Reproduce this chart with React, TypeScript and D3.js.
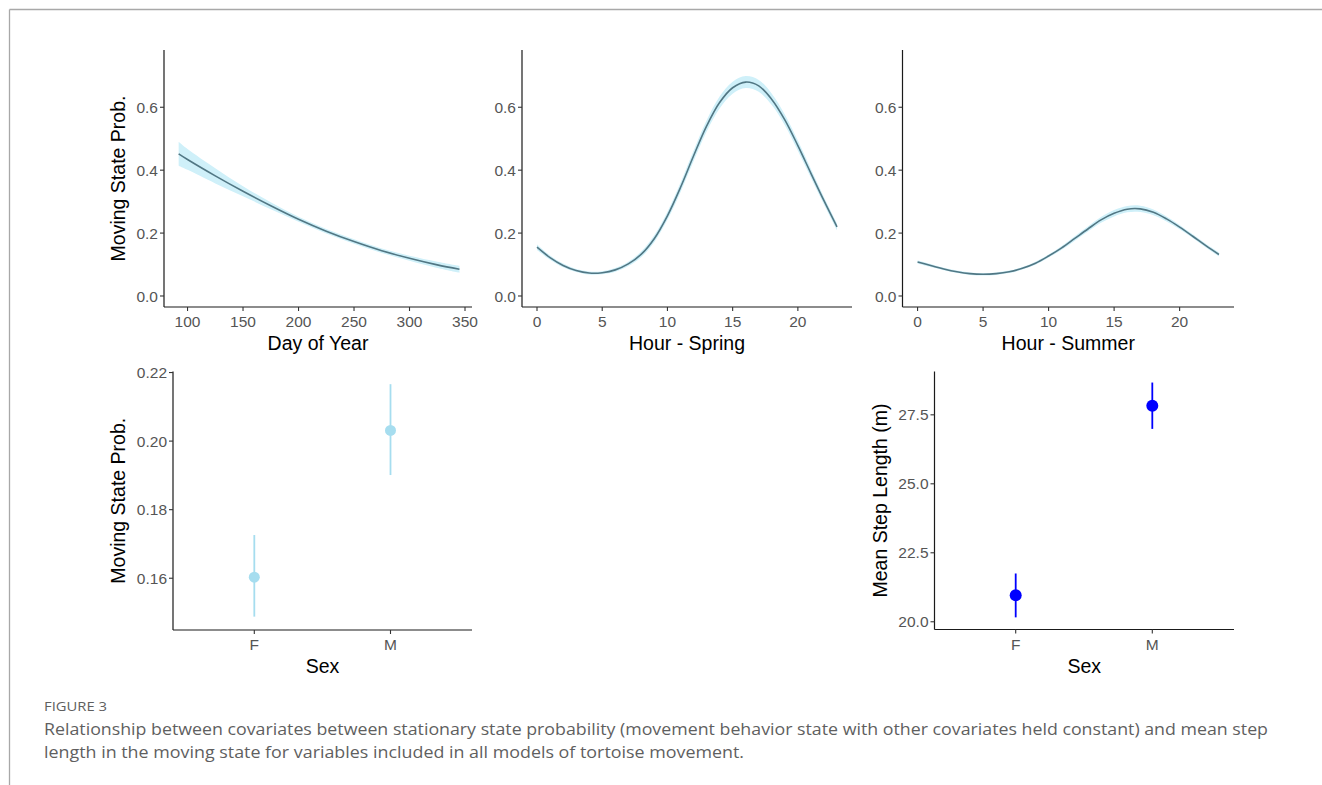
import React from "react";
import * as d3 from "d3";

// ---- Data ----
const dayX = [92, 100, 125, 150, 175, 200, 225, 250, 275, 300, 325, 345];
const dayFit = [0.452, 0.434, 0.382, 0.333, 0.287, 0.244, 0.206, 0.173, 0.144, 0.12, 0.099, 0.085];
const dayHalf = [0.038, 0.033, 0.024, 0.016, 0.011, 0.008, 0.007, 0.007, 0.007, 0.008, 0.01, 0.011];

const hours = [0, 1, 2, 3, 4, 5, 6, 7, 8, 9, 10, 11, 12, 13, 14, 15, 16, 17, 18, 19, 20, 21, 22, 23];
const springFit = [0.155, 0.122, 0.097, 0.081, 0.073, 0.074, 0.083, 0.102, 0.133, 0.183, 0.255, 0.345, 0.445, 0.54, 0.615, 0.662, 0.68, 0.668, 0.625, 0.56, 0.478, 0.39, 0.303, 0.22];
const springHalf = [0.009, 0.007, 0.006, 0.005, 0.005, 0.005, 0.006, 0.007, 0.009, 0.011, 0.013, 0.015, 0.017, 0.018, 0.019, 0.019, 0.019, 0.019, 0.018, 0.017, 0.016, 0.014, 0.012, 0.011];
const summerFit = [0.108, 0.097, 0.086, 0.077, 0.071, 0.069, 0.071, 0.077, 0.088, 0.104, 0.127, 0.153, 0.183, 0.213, 0.242, 0.263, 0.276, 0.277, 0.266, 0.245, 0.219, 0.19, 0.16, 0.132];
const summerHalf = [0.005, 0.005, 0.004, 0.004, 0.004, 0.004, 0.004, 0.004, 0.004, 0.005, 0.005, 0.006, 0.007, 0.008, 0.009, 0.01, 0.01, 0.01, 0.009, 0.008, 0.007, 0.006, 0.006, 0.006];

const sexCats = ["F", "M"];
const probMean = [0.1603, 0.2031];
const probLo = [0.1488, 0.1901];
const probHi = [0.1726, 0.2166];
const stepMean = [20.96, 27.83];
const stepLo = [20.16, 26.99];
const stepHi = [21.75, 28.67];

const probTicksTop = [0, 0.2, 0.4, 0.6];
const dayTicks = [100, 150, 200, 250, 300, 350];
const hourTicks = [0, 5, 10, 15, 20];
const probTicksSex = [0.16, 0.18, 0.2, 0.22];
const stepTicks = [20, 22.5, 25, 27.5];

const LINE = "#517784";
const RIBBON = "#cff0f9";
const TICKCOL = "#555555";
const FONT = "'Liberation Sans', Arial, Helvetica, sans-serif";
const TICK_FS = 15.5;
const TITLE_FS = 19.5;

function Axes({ x0, x1, y0, y1, xTicks, yTicks, xs, ys, xFmt, yFmt, xTitle, yTitle, yTitleX }: any) {
  return (
    <g fontFamily={FONT}>
      <line x1={x0} x2={x0} y1={y0} y2={y1} stroke="#1a1a1a" strokeWidth={1.2} />
      <line x1={x0} x2={x1} y1={y1} y2={y1} stroke="#1a1a1a" strokeWidth={1.2} />
      {yTicks.map((t: any, i: number) => (
        <g key={"y" + i}>
          <line x1={x0 - 4} x2={x0} y1={ys(t)} y2={ys(t)} stroke="#333" strokeWidth={1.1} />
          <text x={x0 - 6} y={ys(t)} dy="0.36em" textAnchor="end" fontSize={TICK_FS} fill={TICKCOL}>
            {yFmt(t)}
          </text>
        </g>
      ))}
      {xTicks.map((t: any, i: number) => (
        <g key={"x" + i}>
          <line x1={xs(t)} x2={xs(t)} y1={y1} y2={y1 + 4} stroke="#333" strokeWidth={1.1} />
          <text x={xs(t)} y={y1 + 20} textAnchor="middle" fontSize={TICK_FS} fill={TICKCOL}>
            {xFmt(t)}
          </text>
        </g>
      ))}
      <text x={(x0 + x1) / 2} y={y1 + 43} textAnchor="middle" fontSize={TITLE_FS} fill="#000">
        {xTitle}
      </text>
      {yTitle && (
        <text
          transform={`translate(${yTitleX},${(y0 + y1) / 2}) rotate(-90)`}
          dy="0.35em"
          textAnchor="middle"
          fontSize={TITLE_FS}
          fill="#000"
        >
          {yTitle}
        </text>
      )}
    </g>
  );
}

function CurvePanel({ x0, x1, xs, ys, xv, fit, half, xTicks, xTitle, yTitle }: any) {
  const pts = xv.map((x: number, i: number) => ({ x, y: fit[i], h: half[i] }));
  const area = d3
    .area<any>()
    .x((d) => xs(d.x))
    .y0((d) => ys(d.y - d.h))
    .y1((d) => ys(d.y + d.h))
    .curve(d3.curveCatmullRom.alpha(0.5));
  const line = d3
    .line<any>()
    .x((d) => xs(d.x))
    .y((d) => ys(d.y))
    .curve(d3.curveCatmullRom.alpha(0.5));
  return (
    <g>
      <path d={area(pts) || ""} fill={RIBBON} />
      <path d={line(pts) || ""} fill="none" stroke={LINE} strokeWidth={1.6} />
      <Axes
        x0={x0}
        x1={x1}
        y0={50}
        y1={307}
        xTicks={xTicks}
        yTicks={probTicksTop}
        xs={xs}
        ys={ys}
        xFmt={(t: number) => String(t)}
        yFmt={d3.format(".1f")}
        xTitle={xTitle}
        yTitle={yTitle}
        yTitleX={118}
      />
    </g>
  );
}

export default function App() {
  const yTop = d3.scaleLinear().domain([-0.035, 0.782]).range([307, 50]);

  const xDay = d3.scaleLinear().domain([78.8, 356.3]).range([164, 472]);
  const xSpring = d3.scaleLinear().domain([-1.15, 24.15]).range([522, 852]);
  const xSummer = d3.scaleLinear().domain([-1.15, 24.15]).range([902.5, 1234]);

  const xSexL = d3.scalePoint().domain(sexCats).range([254.3, 390.5]);
  const ySexL = d3.scaleLinear().domain([0.1449, 0.2203]).range([630, 371.5]);
  const xSexR = d3.scalePoint().domain(sexCats).range([1015.7, 1152.3]);
  const ySexR = d3.scaleLinear().domain([19.72, 29.07]).range([629.5, 371.5]);

  return (
    <svg
      width={1322}
      height={785}
      style={{ position: "absolute", left: 0, top: 0, background: "#fff" }}
    >
      <rect x={0} y={0} width={1322} height={785} fill="#fff" />
      <line x1={9.5} x2={1322} y1={9.5} y2={9.5} stroke="#a8a8a8" strokeWidth={1.3} />
      <line x1={9.5} x2={9.5} y1={9.5} y2={785} stroke="#a8a8a8" strokeWidth={1.3} />

      <CurvePanel x0={164} x1={472} xs={xDay} ys={yTop} xv={dayX} fit={dayFit} half={dayHalf}
        xTicks={dayTicks} xTitle="Day of Year" yTitle="Moving State Prob." />
      <CurvePanel x0={522} x1={852} xs={xSpring} ys={yTop} xv={hours} fit={springFit} half={springHalf}
        xTicks={hourTicks} xTitle="Hour - Spring" yTitle={null} />
      <CurvePanel x0={902.5} x1={1234} xs={xSummer} ys={yTop} xv={hours} fit={summerFit} half={summerHalf}
        xTicks={hourTicks} xTitle="Hour - Summer" yTitle={null} />

      {/* Bottom-left: moving state probability by sex */}
      <g>
        {sexCats.map((c, i) => (
          <g key={c}>
            <line x1={xSexL(c)} x2={xSexL(c)} y1={ySexL(probLo[i])} y2={ySexL(probHi[i])} stroke="#a6ddef" strokeWidth={1.8} />
            <circle cx={xSexL(c)} cy={ySexL(probMean[i])} r={5.5} fill="#a6ddef" />
          </g>
        ))}
        <Axes x0={173} x1={472} y0={371.5} y1={630} xTicks={sexCats} yTicks={probTicksSex}
          xs={(c: string) => xSexL(c)} ys={ySexL} xFmt={(t: string) => t} yFmt={d3.format(".2f")}
          xTitle="Sex" yTitle="Moving State Prob." yTitleX={118} />
      </g>

      {/* Bottom-right: mean step length by sex */}
      <g>
        {sexCats.map((c, i) => (
          <g key={c}>
            <line x1={xSexR(c)} x2={xSexR(c)} y1={ySexR(stepLo[i])} y2={ySexR(stepHi[i])} stroke="#0000ff" strokeWidth={1.8} />
            <circle cx={xSexR(c)} cy={ySexR(stepMean[i])} r={6} fill="#0000ff" />
          </g>
        ))}
        <Axes x0={934.5} x1={1234} y0={371.5} y1={629.5} xTicks={sexCats} yTicks={stepTicks}
          xs={(c: string) => xSexR(c)} ys={ySexR} xFmt={(t: string) => t} yFmt={d3.format(".1f")}
          xTitle="Sex" yTitle="Mean Step Length (m)" yTitleX={880} />
      </g>

      {/* Caption */}
      <g fontFamily="'Open Sans', Lato, sans-serif" fill="#5f5f5f">
        <text x={44} y={711} fontSize={12} textLength={63} lengthAdjust="spacingAndGlyphs">FIGURE 3</text>
        <text x={44} y={735} fontSize={16.5} textLength={1224} lengthAdjust="spacingAndGlyphs">
          Relationship between covariates between stationary state probability (movement behavior state with other covariates held constant) and mean step
        </text>
        <text x={44} y={758} fontSize={16.5} textLength={700} lengthAdjust="spacingAndGlyphs">
          length in the moving state for variables included in all models of tortoise movement.
        </text>
      </g>
    </svg>
  );
}
